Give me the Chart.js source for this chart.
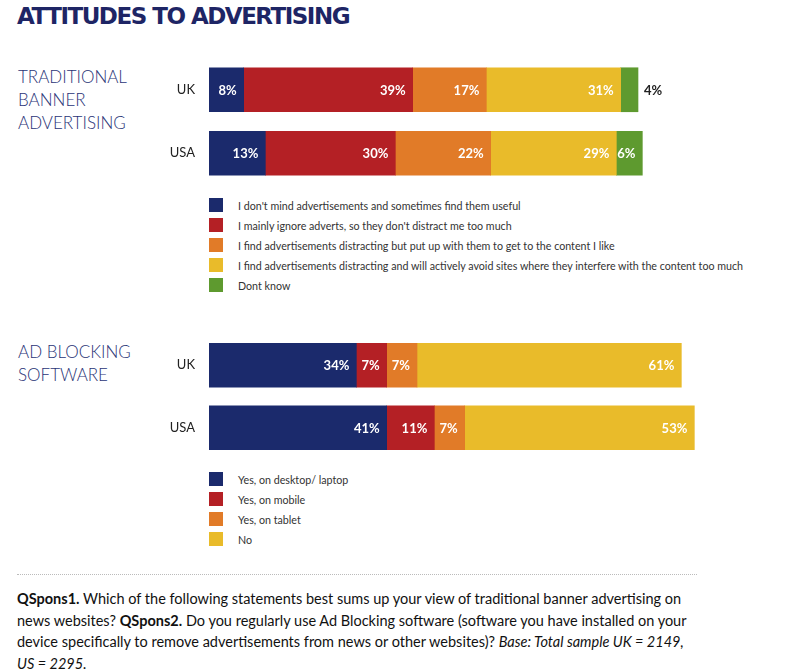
<!DOCTYPE html>
<html>
<head>
<meta charset="utf-8">
<script src="https://cdn.jsdelivr.net/npm/chart.js@4"></script>
<style>
  body { margin: 0; background: #fff; font-family: Lato, "Open Sans", sans-serif; }
  #page { position: relative; width: 800px; height: 671px; overflow: hidden; }
  .abs { position: absolute; }
  #title { left: 17px; top: 3px; font: bold 23px "DejaVu Sans", sans-serif; color: #1e2565; letter-spacing: -1.5px; }
  .section { left: 18px; font-size: 17px; font-weight: 300; line-height: 23px; color: #2a3477; }
  .legend { left: 209px; font-size: 10.7px; color: #333; }
  .legend div { height: 20px; display: flex; align-items: center; }
  .legend span.box { width: 14px; height: 14px; margin-right: 15px; display: inline-block; }
  #rule { left: 17px; top: 574px; width: 680px; border-top: 1px dotted #bbb; }
  #note { left: 17px; top: 588px; width: 690px; font-size: 14.5px; line-height: 21.5px; color: #111; }
</style>
</head>
<body>
<div id="page">
  <div id="title" class="abs">ATTITUDES TO ADVERTISING</div>
  <div class="abs section" style="top:65px">TRADITIONAL<br>BANNER<br>ADVERTISING</div>
  <div class="abs section" style="top:340px">AD BLOCKING<br>SOFTWARE</div>
  <div class="abs" style="left:150px; top:58px; width:600px; height:127px"><canvas id="banner"></canvas></div>
  <div class="abs" style="left:150px; top:334px; width:600px; height:125px"><canvas id="blocking"></canvas></div>
  <div id="legend1" class="abs legend" style="top:195px"></div>
  <div id="legend2" class="abs legend" style="top:469px"></div>
  <div id="rule" class="abs"></div>
  <div id="note" class="abs"><b>QSpons1.</b> Which of the following statements best sums up your view of traditional banner advertising on news websites? <b>QSpons2.</b> Do you regularly use Ad Blocking software (software you have installed on your device specifically to remove advertisements from news or other websites)? <i>Base: Total sample UK = 2149, US&nbsp;=&nbsp;2295.</i></div>
</div>
<script>
const countries = ["UK", "USA"];

const bannerNames = [
  "I don't mind advertisements and sometimes find them useful",
  "I mainly ignore adverts, so they don't distract me too much",
  "I find advertisements distracting but put up with them to get to the content I like",
  "I find advertisements distracting and will actively avoid sites where they interfere with the content too much",
  "Dont know"
];
const bannerUseful = [8, 13];
const bannerIgnore = [39, 30];
const bannerPutUp = [17, 22];
const bannerAvoid = [31, 29];
const bannerDontKnow = [4, 6];

const blockingNames = ["Yes, on desktop/ laptop", "Yes, on mobile", "Yes, on tablet", "No"];
const blockDesktop = [34, 41];
const blockMobile = [7, 11];
const blockTablet = [7, 7];
const blockNo = [61, 53];

const colors = ["#1b2a6c", "#b42025", "#e17b28", "#e9bb2a", "#5e9a2f"];

// percent labels drawn inside the right end of each segment, outside if it doesn't fit
const segmentLabels = {
  id: "segmentLabels",
  afterDatasetsDraw(chart) {
    const ctx = chart.ctx;
    ctx.save();
    ctx.font = "bold 13px Lato";
    ctx.textBaseline = "middle";
    chart.data.datasets.forEach((ds, i) => {
      chart.getDatasetMeta(i).data.forEach((bar, j) => {
        const txt = ds.data[j] + "%";
        const w = ctx.measureText(txt).width;
        if (w + 4 > bar.x - bar.base) {
          ctx.fillStyle = "#222";
          ctx.textAlign = "left";
          ctx.fillText(txt, bar.x + 6, bar.y + 1);
        } else {
          ctx.fillStyle = "#fff";
          ctx.textAlign = "right";
          ctx.fillText(txt, bar.x - 7, bar.y + 1);
        }
      });
    });
    ctx.restore();
  }
};

const makeChart = (id, names, series) => {
  new Chart(document.getElementById(id), {
    type: "bar",
    data: {
      labels: countries,
      datasets: series.map((data, i) => ({
        label: names[i],
        data,
        backgroundColor: colors[i],
        barThickness: 44
      }))
    },
    options: {
      indexAxis: "y",
      responsive: true,
      maintainAspectRatio: false,
      animation: false,
      layout: { padding: { left: 0, right: 21, top: 0, bottom: 0 } },
      plugins: { legend: { display: false }, tooltip: { enabled: false } },
      scales: {
        x: { stacked: true, min: 0, max: 120, display: false },
        y: {
          stacked: true,
          grid: { display: false, drawTicks: false },
          border: { display: false },
          ticks: { padding: 14, color: "#222", font: { family: "Lato", size: 13 } },
          afterFit: (axis) => {
            axis.width = 59;
            axis.paddingTop = 0;
            axis.paddingBottom = 0;
          }
        }
      }
    },
    plugins: [segmentLabels]
  });
};

makeChart("banner", bannerNames, [bannerUseful, bannerIgnore, bannerPutUp, bannerAvoid, bannerDontKnow]);
makeChart("blocking", blockingNames, [blockDesktop, blockMobile, blockTablet, blockNo]);

const buildLegend = (id, names) => {
  document.getElementById(id).innerHTML = names.map((n, i) =>
    `<div><span class="box" style="background:${colors[i]}"></span>${n}</div>`).join("");
};
buildLegend("legend1", bannerNames);
buildLegend("legend2", blockingNames);
</script>
</body>
</html>
